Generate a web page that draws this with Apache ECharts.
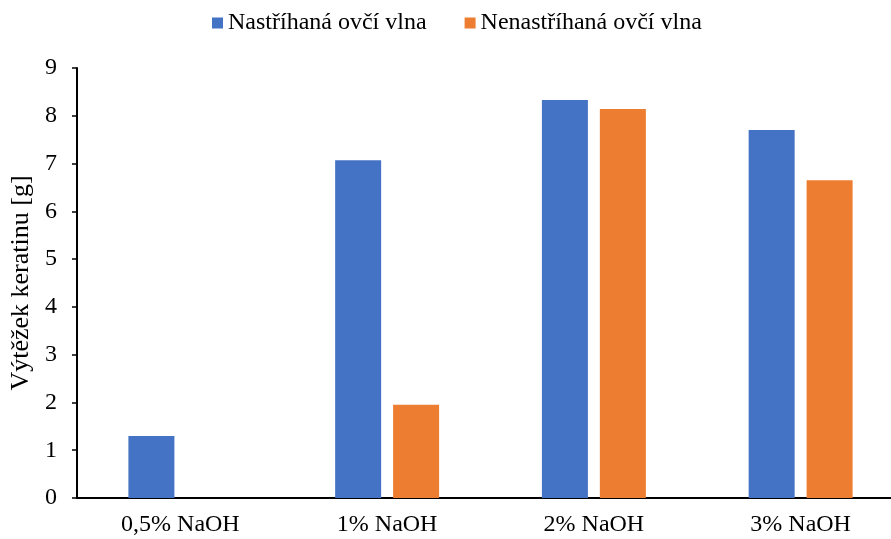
<!DOCTYPE html>
<html>
<head>
<meta charset="utf-8">
<script src="https://cdn.jsdelivr.net/npm/echarts@6/dist/echarts.min.js"></script>
<style>
  html, body { margin: 0; padding: 0; background: #fff; }
  #main { width: 891px; height: 539px; }
</style>
</head>
<body>
<div id="main"></div>
<script>
  // data
  const categories = ["0,5% NaOH", "1% NaOH", "2% NaOH", "3% NaOH"];
  const nastrihana = [1.30, 7.07, 8.33, 7.70];
  const nenastrihana = [null, 1.95, 8.14, 6.65];
  const yTicks = [0, 1, 2, 3, 4, 5, 6, 7, 8, 9];

  const font = "'Liberation Serif', 'Times New Roman', serif";

  const myChart = echarts.init(document.getElementById("main"));
  const option = {
    animation: false,
    textStyle: { fontFamily: font },
    legend: {
      top: 6,
      left: 207,
      itemWidth: 11,
      itemHeight: 11,
      itemGap: 38,
      icon: "rect",
      textStyle: { fontFamily: font, fontSize: 24, color: "#000" },
      data: ["Nastříhaná ovčí vlna", "Nenastříhaná ovčí vlna"]
    },
    grid: {
      left: 77,
      right: -13,
      top: 68,
      bottom: 41,
      containLabel: false,
      outerBoundsMode: "none"
    },
    xAxis: {
      type: "category",
      data: categories,
      axisLine: { lineStyle: { color: "#000", width: 2 } },
      axisTick: { show: false },
      axisLabel: { color: "#000", fontSize: 24, fontFamily: font, margin: 15 }
    },
    yAxis: {
      type: "value",
      min: yTicks[0],
      max: yTicks[yTicks.length - 1],
      interval: 1,
      name: "Výtěžek keratinu [g]",
      nameLocation: "middle",
      nameGap: 41,
      nameTextStyle: { color: "#000", fontSize: 26, fontFamily: font },
      axisLine: { show: true, lineStyle: { color: "#000", width: 2 } },
      axisTick: { show: true, length: 5, lineStyle: { color: "#000", width: 1.5 } },
      axisLabel: { color: "#000", fontSize: 24, fontFamily: font, margin: 20 },
      splitLine: { show: false }
    },
    series: [
      {
        name: "Nastříhaná ovčí vlna",
        type: "bar",
        barWidth: 46,
        barGap: "26%",
        itemStyle: { color: "#4472C4" },
        data: nastrihana
      },
      {
        name: "Nenastříhaná ovčí vlna",
        type: "bar",
        barWidth: 46,
        itemStyle: { color: "#ED7D31" },
        data: nenastrihana
      }
    ]
  };
  myChart.setOption(option);
</script>
</body>
</html>
